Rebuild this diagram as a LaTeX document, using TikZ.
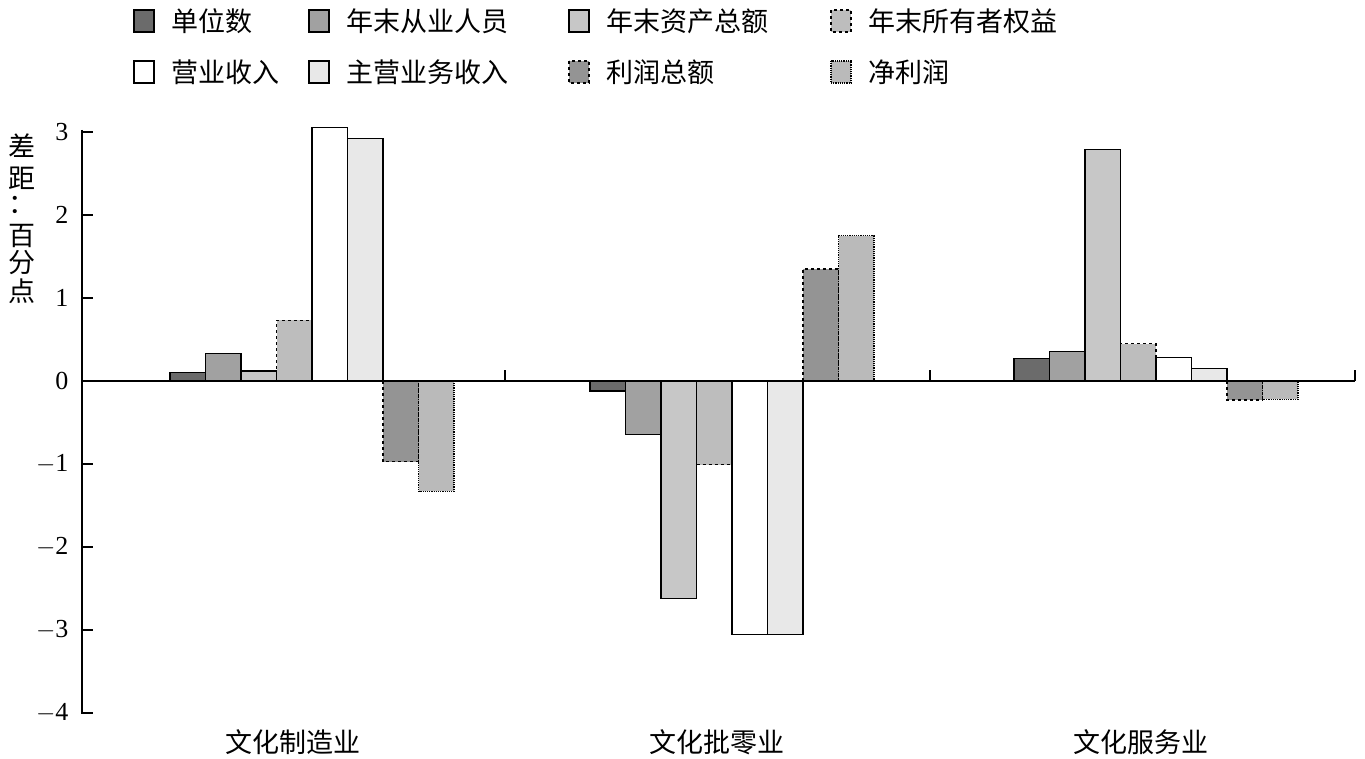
\documentclass[tikz,border=0pt]{standalone}
\usepackage{fontspec}
\setmainfont{Liberation Serif}
\newfontfamily\cjk{Noto Sans CJK SC}
\begin{document}
\begin{tikzpicture}[x=1pt,y=-1pt,
  lbl/.style={font=\cjk\fontsize{27}{30}\selectfont,inner sep=0pt},
  num/.style={font=\fontsize{26}{30}\selectfont},
  bar/.style={draw=black,line width=1.2pt},
  sA/.style={bar,fill=black!58},
  sB/.style={bar,fill=black!37},
  sC/.style={bar,fill=black!22},
  sD/.style={bar,fill=black!26,dashed},
  sE/.style={bar,fill=white},
  sF/.style={bar,fill=black!9},
  sG/.style={bar,fill=black!42,dashed},
  sH/.style={bar,fill=black!27,densely dotted}]
\useasboundingbox (0,0) rectangle (1365,759);
% legend
\foreach \s/\t/\x/\y in {sA/单位数/134/21, sB/年末从业人员/309/21, sC/年末资产总额/569/21, sD/年末所有者权益/831/21,
  sE/营业收入/134/72, sF/主营业务收入/309/72, sG/利润总额/569/72, sH/净利润/831/72}{
  \path[\s] (\x,\y-11) rectangle (\x+20,\y+11);
  \node[lbl,anchor=west] at (\x+37,\y) {\t};
}
% axes
\def\yy#1{381-83*(#1)}
\draw[line width=2pt] (82,130) -- (82,714);
\foreach \v/\l in {3/3,2/2,1/1,0/0,-1/$-$1,-2/$-$2,-3/$-$3,-4/$-$4}{
  \draw[line width=2pt] (82,{\yy{\v}}) -- (93,{\yy{\v}});
  \node[num,anchor=east] at (72,{\yy{\v}}) {\l};
}
\foreach \c/\yc in {差/146,距/178,：/205,百/236,分/263,点/291}{
  \node[lbl] at (22,\yc) {\c};
}
% bars
\foreach \g/\vals in {170/{0.1,0.33,0.12,0.73,3.05,2.92,-0.97,-1.33},
  590/{-0.12,-0.64,-2.62,-1.01,-3.05,-3.05,1.35,1.75},
  1014/{0.27,0.36,2.79,0.45,0.28,0.15,-0.23,-0.22}}{
  \foreach \v [count=\k] in \vals{
    \pgfmathsetmacro\xa{\g+35.5*(\k-1)}
    \ifcase\k\or\def\st{sA}\or\def\st{sB}\or\def\st{sC}\or\def\st{sD}\or\def\st{sE}\or\def\st{sF}\or\def\st{sG}\or\def\st{sH}\fi
    \path[\st] (\xa,381) rectangle (\xa+35.5,{\yy{\v}});
  }
}
\draw[line width=2pt] (82,381) -- (1355,381);
\foreach \x in {505,930,1355} \draw[line width=2pt] (\x,381) -- (\x,370);
\node[lbl] at (293,742) {文化制造业};
\node[lbl] at (717,742) {文化批零业};
\node[lbl] at (1141,742) {文化服务业};
\end{tikzpicture}
\end{document}
